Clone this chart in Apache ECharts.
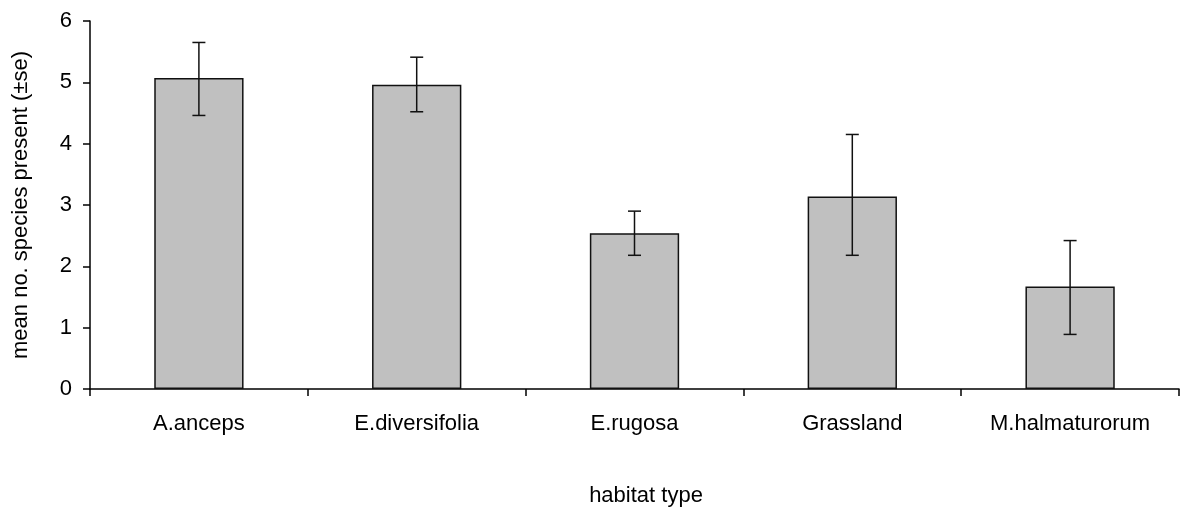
<!DOCTYPE html>
<html>
<head>
<meta charset="utf-8">
<script src="https://cdn.jsdelivr.net/npm/echarts@6/dist/echarts.min.js"></script>
<style>html,body{margin:0;padding:0;background:#fff}#c{width:1184px;height:512px}</style>
</head>
<body>
<div id="c"></div>
<script>
var categories = ['A.anceps', 'E.diversifolia', 'E.rugosa', 'Grassland', 'M.halmaturorum'];
var means = [5.07, 4.96, 2.54, 3.14, 1.67];
var upper = [5.65, 5.41, 2.90, 4.15, 2.42];
var lower = [4.46, 4.52, 2.18, 2.18, 0.89];
var yTicks = [0, 1, 2, 3, 4, 5, 6];

var font = '"Liberation Sans", Arial, sans-serif';
var chart = echarts.init(document.getElementById('c'));
var errData = categories.map(function (c, i) { return [i, lower[i], upper[i]]; });

chart.setOption({
  animation: false,
  backgroundColor: '#fff',
  grid: { left: 90, right: 5, top: 21, bottom: 118.5, containLabel: false },
  xAxis: {
    type: 'category',
    data: categories,
    boundaryGap: true,
    name: 'habitat type',
    nameLocation: 'middle',
    nameGap: 96,
    nameTextStyle: { color: '#000', fontSize: 22, fontFamily: font, padding: [0, 0, 0, 23] },
    axisLine: { lineStyle: { color: '#000', width: 1.5 } },
    axisTick: { show: true, alignWithLabel: false, length: 7, lineStyle: { color: '#000', width: 1.5 } },
    axisLabel: { color: '#000', fontSize: 22, fontFamily: font, margin: 24 },
    splitLine: { show: false }
  },
  yAxis: {
    type: 'value',
    min: yTicks[0],
    max: yTicks[yTicks.length - 1],
    interval: 1,
    name: 'mean no. species present (\u00b1se)',
    nameLocation: 'middle',
    nameGap: 58,
    nameTextStyle: { color: '#000', fontSize: 22, fontFamily: font },
    axisLine: { show: true, lineStyle: { color: '#000', width: 1.5 } },
    axisTick: { show: true, length: 7, lineStyle: { color: '#000', width: 1.5 } },
    axisLabel: { color: '#000', fontSize: 22, fontFamily: font, margin: 18 },
    splitLine: { show: false }
  },
  series: [
    {
      type: 'bar',
      data: means,
      barWidth: '41%',
      itemStyle: { color: '#c0c0c0', borderColor: '#111', borderWidth: 1.5 },
      z: 2
    },
    {
      type: 'custom',
      data: errData,
      z: 3,
      renderItem: function (params, api) {
        var x = api.value(0);
        var lo = api.coord([x, api.value(1)]);
        var hi = api.coord([x, api.value(2)]);
        var hw = 6.5;
        var style = { stroke: '#111', lineWidth: 1.5, fill: null };
        return {
          type: 'group',
          children: [
            { type: 'line', shape: { x1: hi[0], y1: hi[1], x2: lo[0], y2: lo[1] }, style: style },
            { type: 'line', shape: { x1: hi[0] - hw, y1: hi[1], x2: hi[0] + hw, y2: hi[1] }, style: style },
            { type: 'line', shape: { x1: lo[0] - hw, y1: lo[1], x2: lo[0] + hw, y2: lo[1] }, style: style }
          ]
        };
      }
    }
  ]
});
</script>
</body>
</html>
